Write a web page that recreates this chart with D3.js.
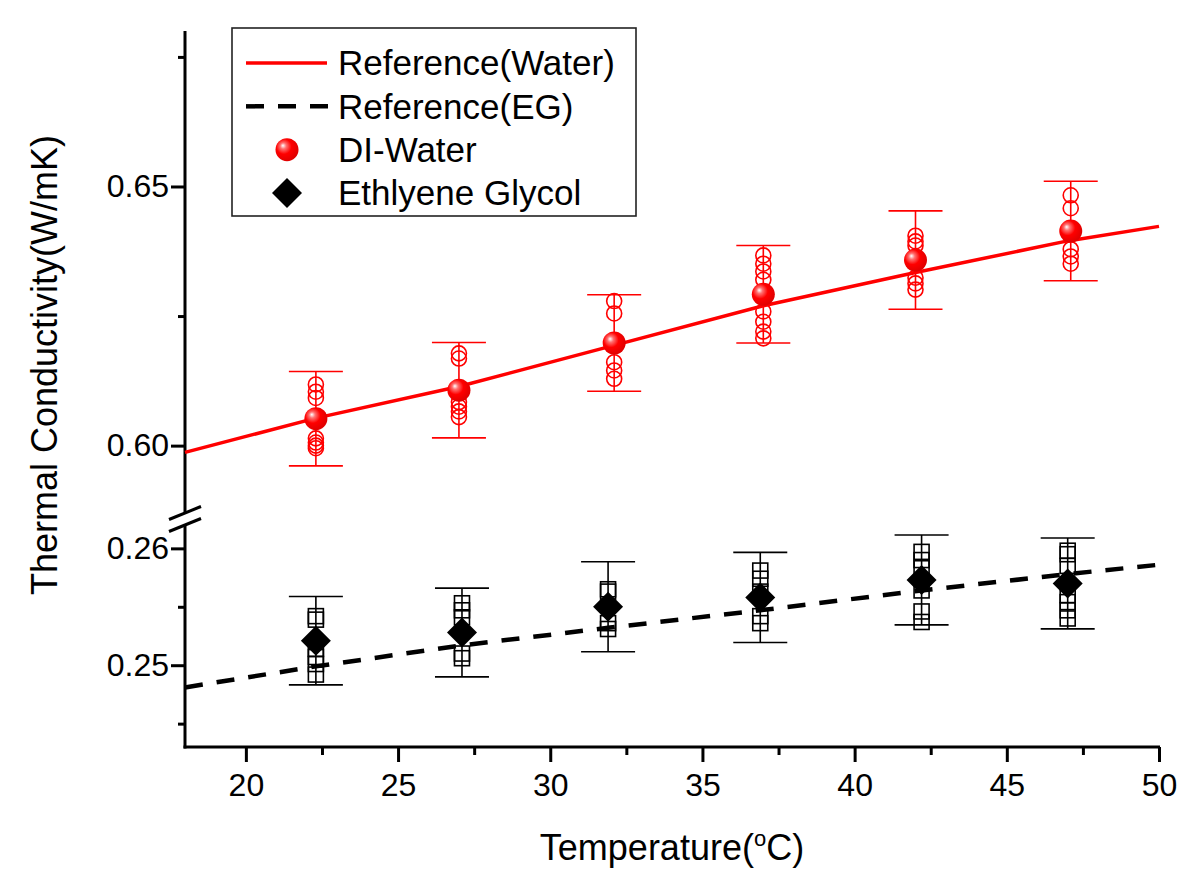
<!DOCTYPE html>
<html lang="en">
  <head>
    <meta charset="utf-8">
    <title>Thermal conductivity</title>
    <script src="https://cdn.jsdelivr.net/npm/d3@7"></script>
    <style>
      body { margin: 0; background: #fff; }
      text { font-family: "Liberation Sans", Arial, sans-serif; fill: #000; }
    </style>
  </head>
  <body>
    <script>

      // --- data ---
      // DI-Water
      var waterTemp = [22.3, 27.0, 32.1, 37.0, 42.0, 47.1];
      var waterMean = [0.6052, 0.6107, 0.6198, 0.6292, 0.6358, 0.6414];
      var waterErr  = [0.0091, 0.0092, 0.0093, 0.0094, 0.0095, 0.0096];
      var waterRuns = [
        [0.6118, 0.6104, 0.6092, 0.6014, 0.6006, 0.6000, 0.5995],
        [0.6178, 0.6168, 0.6084, 0.6075, 0.6066, 0.6055],
        [0.6279, 0.6255, 0.6161, 0.6145, 0.6129],
        [0.6367, 0.6351, 0.6336, 0.6320, 0.6259, 0.6239, 0.6220, 0.6207],
        [0.6405, 0.6394, 0.6386, 0.6324, 0.6313, 0.6301],
        [0.6483, 0.6458, 0.6379, 0.6365, 0.6351]
      ];
      // Ethylene glycol
      var egTemp = [22.3, 27.1, 31.9, 36.9, 42.2, 47.0];
      var egMean = [0.2521, 0.2528, 0.2550, 0.2558, 0.2573, 0.2570];
      var egErr  = [0.00378, 0.0038, 0.00385, 0.00386, 0.00385, 0.00389];
      var egRuns = [
        [0.2542, 0.2539, 0.2514, 0.2507, 0.2501, 0.2492],
        [0.2553, 0.2547, 0.2541, 0.2510, 0.2506],
        [0.2565, 0.2563, 0.2536, 0.2531],
        [0.2581, 0.2574, 0.2563, 0.2542, 0.2536],
        [0.2597, 0.2590, 0.2583, 0.2564, 0.2546, 0.2537],
        [0.2598, 0.2595, 0.2585, 0.2560, 0.2554, 0.2547, 0.2540]
      ];
      // reference curves
      var refWaterT = [18, 22.3, 27, 32, 37, 42, 47, 50];
      var refWaterK = [0.5987, 0.6053, 0.6114, 0.6192, 0.6270, 0.6334, 0.6395, 0.6423];
      var refEgT = [18, 22.3, 27.1, 31.9, 36.9, 42.2, 47.0, 50];
      var refEgK = [0.2481, 0.2499, 0.2517, 0.2532, 0.2547, 0.2564, 0.2578, 0.2586];

      var xTicks = [20, 25, 30, 35, 40, 45, 50];
      var xMinor = [22.5, 27.5, 32.5, 37.5, 42.5, 47.5];
      var upperTicks = [0.60, 0.65];
      var upperMinor = [0.625, 0.675];
      var lowerTicks = [0.25, 0.26];
      var lowerMinor = [0.245, 0.255];

      var legendItems = ["Reference(Water)", "Reference(EG)", "DI-Water", "Ethlyene Glycol"];

      //Width and height
      var w = 1200;
      var h = 893;
      var plotLeft = 185, plotRight = 1159, plotBottom = 747, plotTop = 31;
      var breakHi = 513, breakLo = 525;

      var svg = d3.select("body").append("svg")
                  .attr("width", w)
                  .attr("height", h);

      var defs = svg.append("defs");
      var grad = defs.append("radialGradient")
                     .attr("id", "ball")
                     .attr("cx", "40%").attr("cy", "40%").attr("r", "60%")
                     .attr("fx", "32%").attr("fy", "32%");
      grad.append("stop").attr("offset", "0%").attr("stop-color", "#ffffff");
      grad.append("stop").attr("offset", "22%").attr("stop-color", "#ff7070");
      grad.append("stop").attr("offset", "55%").attr("stop-color", "#ff0000");
      grad.append("stop").attr("offset", "100%").attr("stop-color", "#e00000");

      //Scales
      var xScale = d3.scaleLinear().domain([18, 50]).range([plotLeft, plotRight]);
      var yUp = d3.scaleLinear().domain([0.587, 0.68]).range([breakHi, plotTop]);
      var yLo = d3.scaleLinear().domain([0.243, 0.262]).range([plotBottom, breakLo]);

      //Axes
      function styleAxis(g) {
        g.select(".domain").remove();
        g.selectAll("line").attr("stroke", "#000").attr("stroke-width", 3);
        g.selectAll("text").attr("font-size", 32).style("font-family", "'Liberation Sans', Arial, sans-serif");
      }

      svg.append("g")
         .attr("transform", "translate(0," + plotBottom + ")")
         .call(d3.axisBottom(xScale).tickValues(xTicks).tickSize(15).tickPadding(11).tickFormat(d3.format("d")))
         .call(styleAxis);
      svg.append("g")
         .attr("transform", "translate(0," + plotBottom + ")")
         .call(d3.axisBottom(xScale).tickValues(xMinor).tickSize(8).tickFormat(""))
         .call(styleAxis);

      [[yUp, upperTicks, upperMinor], [yLo, lowerTicks, lowerMinor]].forEach(function(s) {
        svg.append("g")
           .attr("transform", "translate(" + plotLeft + ",0)")
           .call(d3.axisLeft(s[0]).tickValues(s[1]).tickSize(14).tickPadding(2).tickFormat(d3.format(".2f")))
           .call(styleAxis);
        svg.append("g")
           .attr("transform", "translate(" + plotLeft + ",0)")
           .call(d3.axisLeft(s[0]).tickValues(s[2]).tickSize(7).tickFormat(""))
           .call(styleAxis);
      });

      // axis lines
      svg.append("line").attr("x1", plotLeft).attr("x2", plotLeft).attr("y1", plotTop).attr("y2", breakHi)
         .attr("stroke", "#000").attr("stroke-width", 3);
      svg.append("line").attr("x1", plotLeft).attr("x2", plotLeft).attr("y1", breakLo).attr("y2", plotBottom + 1.5)
         .attr("stroke", "#000").attr("stroke-width", 3);
      svg.append("line").attr("x1", plotLeft - 1.5).attr("x2", plotRight + 1).attr("y1", plotBottom).attr("y2", plotBottom)
         .attr("stroke", "#000").attr("stroke-width", 3);
      // break marks
      [breakHi, breakLo].forEach(function(yb) {
        svg.append("line")
           .attr("x1", plotLeft - 16).attr("y1", yb + 6.5)
           .attr("x2", plotLeft + 16).attr("y2", yb - 6.5)
           .attr("stroke", "#000").attr("stroke-width", 3);
      });

      // reference lines
      var waterLine = d3.line()
                        .x(function(d, i) { return xScale(refWaterT[i]); })
                        .y(function(d) { return yUp(d); });
      var egLine = d3.line()
                     .x(function(d, i) { return xScale(refEgT[i]); })
                     .y(function(d) { return yLo(d); });

      // error bars
      function errorBars(temps, means, errs, yScale, color) {
        var g = svg.append("g").attr("stroke", color).attr("stroke-width", 1.6).attr("fill", "none");
        temps.forEach(function(t, i) {
          var x = xScale(t), y1 = yScale(means[i] + errs[i]), y0 = yScale(means[i] - errs[i]);
          g.append("line").attr("x1", x).attr("x2", x).attr("y1", y1).attr("y2", y0);
          g.append("line").attr("x1", x - 27).attr("x2", x + 27).attr("y1", y1).attr("y2", y1);
          g.append("line").attr("x1", x - 27).attr("x2", x + 27).attr("y1", y0).attr("y2", y0);
        });
      }

      svg.append("path")
         .datum(refEgK)
         .attr("fill", "none")
         .attr("stroke", "#000")
         .attr("stroke-width", 4.5)
         .attr("stroke-dasharray", "18,14")
         .attr("d", egLine);

      errorBars(waterTemp, waterMean, waterErr, yUp, "#ff0000");
      errorBars(egTemp, egMean, egErr, yLo, "#000");

      // individual runs
      waterRuns.forEach(function(runs, i) {
        svg.append("g").selectAll("circle")
           .data(runs).enter().append("circle")
           .attr("cx", xScale(waterTemp[i]))
           .attr("cy", function(d) { return yUp(d); })
           .attr("r", 7.5)
           .attr("fill", "none")
           .attr("stroke", "#ff0000")
           .attr("stroke-width", 1.6);
      });
      egRuns.forEach(function(runs, i) {
        svg.append("g").selectAll("rect")
           .data(runs).enter().append("rect")
           .attr("x", xScale(egTemp[i]) - 7.5)
           .attr("y", function(d) { return yLo(d) - 7.5; })
           .attr("width", 15)
           .attr("height", 15)
           .attr("fill", "none")
           .attr("stroke", "#000")
           .attr("stroke-width", 1.6);
      });

      svg.append("path")
         .datum(refWaterK)
         .attr("fill", "none")
         .attr("stroke", "#ff0000")
         .attr("stroke-width", 3.5)
         .attr("d", waterLine);

      // means
      var diamond = "M0,-15L15,0L0,15L-15,0Z";
      svg.append("g").selectAll("circle")
         .data(waterMean).enter().append("circle")
         .attr("cx", function(d, i) { return xScale(waterTemp[i]); })
         .attr("cy", function(d) { return yUp(d); })
         .attr("r", 11.5)
         .attr("fill", "url(#ball)");
      svg.append("g").selectAll("path")
         .data(egMean).enter().append("path")
         .attr("transform", function(d, i) { return "translate(" + xScale(egTemp[i]) + "," + yLo(d) + ")"; })
         .attr("d", diamond)
         .attr("fill", "#000");

      // axis titles
      var xt = svg.append("text")
                  .attr("x", 672).attr("y", 860)
                  .attr("text-anchor", "middle")
                  .attr("font-size", 36);
      xt.append("tspan").text("Temperature(");
      xt.append("tspan").attr("font-size", 22).attr("dy", -14).text("o");
      xt.append("tspan").attr("dy", 14).text("C)");

      svg.append("text")
         .attr("transform", "translate(57,365) rotate(-90)")
         .attr("text-anchor", "middle")
         .attr("font-size", 36)
         .text("Thermal Conductivity(W/mK)");

      // legend
      var lg = svg.append("g");
      lg.append("rect")
        .attr("x", 232).attr("y", 28).attr("width", 404).attr("height", 188)
        .attr("fill", "#fff").attr("stroke", "#222").attr("stroke-width", 1.6);
      var rowY = d3.scalePoint().domain(legendItems).range([63, 193]);
      lg.append("line").attr("x1", 246).attr("x2", 327)
        .attr("y1", rowY(legendItems[0])).attr("y2", rowY(legendItems[0]))
        .attr("stroke", "#ff0000").attr("stroke-width", 3.5);
      lg.append("line").attr("x1", 246).attr("x2", 330)
        .attr("y1", rowY(legendItems[1])).attr("y2", rowY(legendItems[1]))
        .attr("stroke", "#000").attr("stroke-width", 4.5).attr("stroke-dasharray", "18,14");
      lg.append("circle").attr("cx", 287).attr("cy", rowY(legendItems[2])).attr("r", 11.5)
        .attr("fill", "url(#ball)");
      lg.append("path").attr("transform", "translate(287," + rowY(legendItems[3]) + ")")
        .attr("d", diamond).attr("fill", "#000");
      lg.selectAll("text.lab")
        .data(legendItems).enter().append("text")
        .attr("class", "lab")
        .attr("x", 338)
        .attr("y", function(d) { return rowY(d); })
        .attr("dy", "0.35em")
        .attr("font-size", 35)
        .text(function(d) { return d; });

    </script>
  </body>
</html>
